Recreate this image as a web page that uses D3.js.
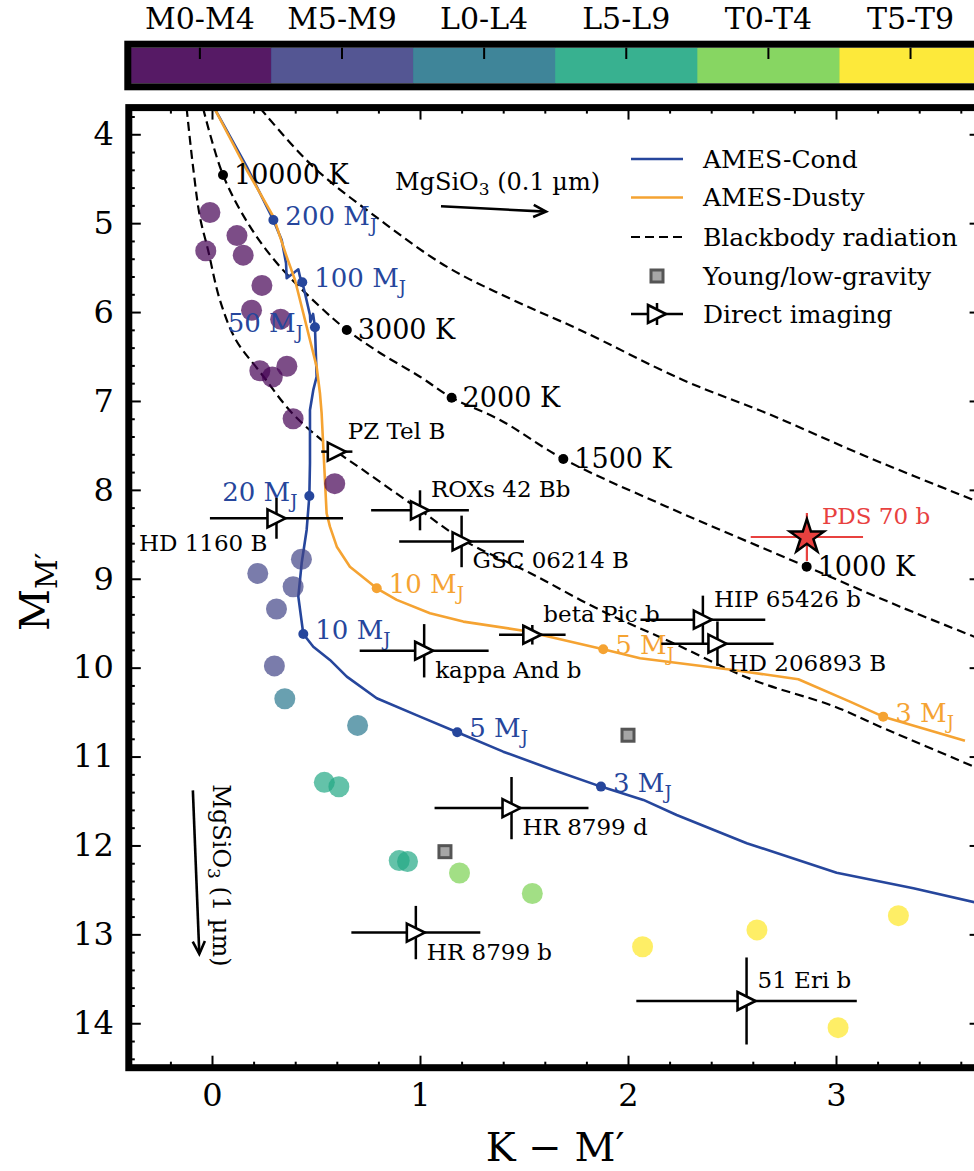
<!DOCTYPE html>
<html>
<head>
<meta charset="utf-8">
<script src="https://cdn.jsdelivr.net/npm/d3@7"></script>
<style>
  body { margin: 0; background: #fff; }
  text { font-family: 'DejaVu Serif', serif; }
</style>
</head>
<body>
<svg id="chart" width="974" height="1171"></svg>
<script>
// colour-magnitude diagram, K - M' vs M_M'

// spectral type bins for the colorbar
const spectralTypes = ['M0-M4', 'M5-M9', 'L0-L4', 'L5-L9', 'T0-T4', 'T5-T9'];

// field dwarfs (index into spectralTypes)
const fieldColor = [-0.01, 0.12, -0.03, 0.15, 0.24, 0.19, 0.33, 0.23, 0.29, 0.36, 0.39, 0.59,
                    0.43, 0.22, 0.39, 0.31, 0.30,
                    0.35, 0.70,
                    0.54, 0.61, 0.90, 0.94,
                    1.19, 1.54,
                    2.07, 2.62, 3.30, 3.01];
const fieldMag = [4.88, 5.14, 5.31, 5.36, 5.70, 5.98, 6.08, 6.66, 6.73, 6.61, 7.20, 7.93,
                  8.78, 8.94, 9.09, 9.34, 9.98,
                  10.35, 10.65,
                  11.29, 11.34, 12.17, 12.18,
                  12.31, 12.54,
                  13.14, 12.95, 12.79, 14.05];
const fieldType = [0, 0, 0, 0, 0, 0, 0, 0, 0, 0, 0, 0,
                   1, 1, 1, 1, 1,
                   2, 2,
                   3, 3, 3, 3,
                   4, 4,
                   5, 5, 5, 5];

// young / low-gravity objects
const youngColor = [1.12, 2.00];
const youngMag = [12.07, 10.76];

// directly imaged companions
const diNames = ['HD 1160 B', 'PZ Tel B', 'ROXs 42 Bb', 'GSC 06214 B', 'kappa And b', 'beta Pic b',
                 'HIP 65426 b', 'HD 206893 B', 'HR 8799 d', 'HR 8799 b', '51 Eri b'];
const diColor = [0.31, 0.60, 1.00, 1.20, 1.02, 1.54, 2.36, 2.43, 1.44, 0.98, 2.57];
const diColorErr = [0.32, 0.075, 0.235, 0.30, 0.31, 0.16, 0.30, 0.27, 0.37, 0.31, 0.53];
const diMag = [8.32, 7.57, 8.23, 8.58, 9.81, 9.63, 9.46, 9.73, 11.58, 12.98, 13.75];
const diMagErr = [0.23, 0.05, 0.225, 0.29, 0.30, 0.11, 0.27, 0.25, 0.35, 0.30, 0.49];

// PDS 70 b
const pdsName = 'PDS 70 b';
const pdsColor = 2.86, pdsColorErr = 0.27;
const pdsMag = 8.53, pdsMagErr = 0.27;

// AMES-Cond and AMES-Dusty isochrones [K-M', M_M']
const condTrack = [[0.010, 3.70], [0.167, 4.364], [0.295, 4.964], [0.335, 5.189], [0.356, 5.451],
  [0.359, 5.620], [0.415, 5.519], [0.423, 5.602], [0.434, 5.665], [0.447, 5.789], [0.471, 6.033],
  [0.473, 6.111], [0.486, 6.021], [0.495, 6.171], [0.503, 6.727], [0.487, 6.876], [0.471, 7.101],
  [0.471, 7.701], [0.468, 8.069], [0.455, 8.451], [0.431, 8.826], [0.415, 9.201], [0.439, 9.621],
  [0.487, 9.764], [0.567, 9.913], [0.648, 10.101], [0.792, 10.344], [1.000, 10.551], [1.179, 10.727],
  [1.400, 10.945], [1.641, 11.151], [1.870, 11.338], [2.074, 11.488], [2.234, 11.657], [2.571, 11.975],
  [3.003, 12.306], [3.372, 12.482], [3.700, 12.658]];
const dustyTrack = [[0.010, 3.70], [0.167, 4.402], [0.295, 4.927], [0.359, 5.377], [0.399, 5.639],
  [0.439, 6.013], [0.471, 6.314], [0.503, 6.614], [0.519, 6.913], [0.527, 7.138], [0.535, 7.514],
  [0.543, 7.889], [0.551, 8.263], [0.567, 8.414], [0.600, 8.639], [0.663, 8.864], [0.792, 9.107],
  [0.888, 9.238], [1.048, 9.388], [1.208, 9.482], [1.497, 9.584], [1.881, 9.793], [2.058, 9.894],
  [2.506, 10.026], [2.819, 10.130], [3.067, 10.382], [3.227, 10.551], [3.620, 10.821]];

// mass points on the tracks
const condMassLabels = ['200', '100', '50', '20', '10', '5', '3'];
const condMassColor = [0.295, 0.434, 0.495, 0.468, 0.439, 1.179, 1.870];
const condMassMag = [4.964, 5.665, 6.171, 8.069, 9.621, 10.727, 11.338];
const dustyMassLabels = ['10', '5', '3'];
const dustyMassColor = [0.792, 1.881, 3.227];
const dustyMassMag = [9.107, 9.793, 10.551];

// blackbody curves
const bbCurveA = [[-0.122, 3.705], [-0.091, 4.368], [-0.058, 4.930], [-0.019, 5.301], [0.038, 5.864],
  [0.115, 6.314], [0.231, 6.674], [0.389, 7.146], [0.567, 7.514], [0.726, 7.776], [1.000, 8.226],
  [1.207, 8.564], [1.529, 8.935], [1.865, 9.351], [2.216, 9.722], [2.601, 10.138], [2.986, 10.431],
  [3.212, 10.664], [3.700, 11.150]];
const bbCurveB = [[-0.043, 3.705], [0.053, 4.458], [0.183, 5.039], [0.327, 5.489], [0.519, 5.939],
  [0.648, 6.201], [0.808, 6.460], [1.000, 6.727], [1.152, 6.963], [1.385, 7.214], [1.689, 7.652],
  [2.186, 8.189], [2.859, 8.864], [3.308, 9.314], [3.700, 9.685]];
const bbCurveC = [[0.231, 3.705], [0.486, 4.364], [0.808, 4.964], [1.128, 5.489], [1.447, 5.864],
  [1.769, 6.201], [2.264, 6.764], [2.667, 7.138], [3.148, 7.627], [3.700, 8.150]];

// temperatures marked on the blackbody curve
const tempLabels = ['10000 K', '3000 K', '2000 K', '1500 K', '1000 K'];
const tempColor = [0.053, 0.648, 1.152, 1.689, 2.859];
const tempMag = [4.458, 6.201, 6.963, 7.652, 8.864];

// extinction vectors [start, end]
const arrowSmallGrain = [[1.101, 4.81], [1.606, 4.87]];
const arrowLargeGrain = [[-0.092, 11.38], [-0.061, 13.22]];

const legendLabels = ['AMES-Cond', 'AMES-Dusty', 'Blackbody radiation', 'Young/low-gravity', 'Direct imaging'];

const condBlue = '#26469c';
const dustyOrange = '#f5a332';
const pdsRed = '#e8413f';

const svg = d3.select('#chart');

const x = d3.scaleLinear().domain([-0.4, 3.7]).range([128.8, 981.6]);
const y = d3.scaleLinear().domain([3.7, 14.5]).range([107.6, 1067.7]);
const [X0, X1] = x.range();
const [Y0, Y1] = y.range();

svg.append('clipPath').attr('id', 'plot-area')
  .append('rect').attr('x', X0).attr('y', Y0).attr('width', X1 - X0).attr('height', Y1 - Y0);

// ---- colorbar
const band = d3.scaleBand().domain(spectralTypes).range([X0, X1]);
const typeColor = (i) => d3.interpolateViridis(i / 5);
const cbar = svg.append('g');
cbar.selectAll('rect.seg').data(spectralTypes).join('rect')
  .attr('class', 'seg')
  .attr('x', (d) => band(d)).attr('y', 47.7)
  .attr('width', band.bandwidth() + 0.5).attr('height', 35.6)
  .attr('fill', (d, i) => typeColor(i)).attr('fill-opacity', 0.9);
cbar.append('rect')
  .attr('x', X0 - 1).attr('y', 44.2).attr('width', X1 - X0 + 2).attr('height', 42.6)
  .attr('fill', 'none').attr('stroke', 'black').attr('stroke-width', 7);
cbar.selectAll('line').data(spectralTypes).join('line')
  .attr('x1', (d) => band(d) + band.bandwidth() / 2).attr('x2', (d) => band(d) + band.bandwidth() / 2)
  .attr('y1', 47.7).attr('y2', 59).attr('stroke', 'black').attr('stroke-width', 2);
cbar.selectAll('text').data(spectralTypes).join('text')
  .attr('x', (d) => band(d) + band.bandwidth() / 2).attr('y', 29)
  .attr('text-anchor', 'middle').attr('font-size', 30)
  .text((d) => d);

// ---- axes, ticks pointing in
const majorX = [0, 1, 2, 3];
const minorX = d3.range(-4, 37, 2).map((d) => d / 10).filter((d) => Math.abs(d - Math.round(d)) > 0.01);
const majorY = d3.range(4, 15);
const minorY = d3.range(38, 146, 2).map((d) => d / 10).filter((d) => Math.abs(d - Math.round(d)) > 0.01);

function styleAxis(g, size) {
  g.select('.domain').remove();
  g.attr('font-family', "'DejaVu Serif', serif").attr('font-size', size);
  g.selectAll('line').attr('stroke-width', 2);
}

svg.append('g').attr('transform', `translate(0,${Y1})`)
  .call(d3.axisBottom(x).tickValues(majorX).tickFormat(d3.format('d')).tickSizeInner(-12).tickSizeOuter(0).tickPadding(16))
  .call((g) => styleAxis(g, 32));
svg.append('g').attr('transform', `translate(0,${Y1})`)
  .call(d3.axisBottom(x).tickValues(minorX).tickFormat('').tickSizeInner(-6).tickSizeOuter(0))
  .call((g) => styleAxis(g, 0));
svg.append('g').attr('transform', `translate(0,${Y0})`)
  .call(d3.axisTop(x).tickValues(majorX).tickFormat('').tickSizeInner(-12).tickSizeOuter(0))
  .call((g) => styleAxis(g, 0));
svg.append('g').attr('transform', `translate(0,${Y0})`)
  .call(d3.axisTop(x).tickValues(minorX).tickFormat('').tickSizeInner(-6).tickSizeOuter(0))
  .call((g) => styleAxis(g, 0));

svg.append('g').attr('transform', `translate(${X0},0)`)
  .call(d3.axisLeft(y).tickValues(majorY).tickFormat(d3.format('d')).tickSizeInner(-12).tickSizeOuter(0).tickPadding(15))
  .call((g) => styleAxis(g, 32));
svg.append('g').attr('transform', `translate(${X0},0)`)
  .call(d3.axisLeft(y).tickValues(minorY).tickFormat('').tickSizeInner(-6).tickSizeOuter(0))
  .call((g) => styleAxis(g, 0));
svg.append('g').attr('transform', `translate(${X1},0)`)
  .call(d3.axisRight(y).tickValues(majorY).tickFormat('').tickSizeInner(-12).tickSizeOuter(0))
  .call((g) => styleAxis(g, 0));
svg.append('g').attr('transform', `translate(${X1},0)`)
  .call(d3.axisRight(y).tickValues(minorY).tickFormat('').tickSizeInner(-6).tickSizeOuter(0))
  .call((g) => styleAxis(g, 0));

// axis labels
svg.append('text')
  .attr('x', (X0 + X1) / 2).attr('y', 1161)
  .attr('text-anchor', 'middle').attr('font-size', 40)
  .text('K \u2212 M\u2032');
const ylab = svg.append('text')
  .attr('transform', 'translate(49,631) rotate(-90)')
  .attr('font-size', 41);
ylab.append('tspan').text('M');
ylab.append('tspan').attr('font-size', 29).attr('dy', 8).text('M\u2032');

// ---- plot contents
const plot = svg.append('g').attr('clip-path', 'url(#plot-area)');
const line = d3.line().x((d) => x(d[0])).y((d) => y(d[1]));
const smooth = d3.line().x((d) => x(d[0])).y((d) => y(d[1])).curve(d3.curveCatmullRom);

[bbCurveA, bbCurveB, bbCurveC].forEach((c) => {
  plot.append('path').attr('d', smooth(c))
    .attr('fill', 'none').attr('stroke', 'black').attr('stroke-width', 2.2)
    .attr('stroke-dasharray', '9,5');
});

plot.append('path').attr('d', line(condTrack))
  .attr('fill', 'none').attr('stroke', condBlue).attr('stroke-width', 2.6).attr('stroke-linejoin', 'round');
plot.append('path').attr('d', line(dustyTrack))
  .attr('fill', 'none').attr('stroke', dustyOrange).attr('stroke-width', 2.6).attr('stroke-linejoin', 'round');

// field dwarfs
plot.append('g').selectAll('circle').data(fieldColor).join('circle')
  .attr('cx', (d) => x(d)).attr('cy', (d, i) => y(fieldMag[i])).attr('r', 10.5)
  .attr('fill', (d, i) => typeColor(fieldType[i])).attr('fill-opacity', 0.7);

// temperature dots and labels
plot.append('g').selectAll('circle').data(tempColor).join('circle')
  .attr('cx', (d) => x(d)).attr('cy', (d, i) => y(tempMag[i])).attr('r', 5).attr('fill', 'black');
plot.append('g').selectAll('text').data(tempLabels).join('text')
  .attr('x', (d, i) => x(tempColor[i]) + 11).attr('y', (d, i) => y(tempMag[i]) + 9)
  .attr('font-size', 27).text((d) => d);

// mass dots
function massLabel(sel, color) {
  sel.attr('fill', color).attr('font-size', 26);
  sel.append('tspan').text((d) => d + ' M');
  sel.append('tspan').attr('font-size', 18).attr('dy', 7).text('J');
}
const leftMass = new Set(['50', '20']);
plot.append('g').selectAll('circle').data(condMassColor).join('circle')
  .attr('cx', (d) => x(d)).attr('cy', (d, i) => y(condMassMag[i])).attr('r', 5).attr('fill', condBlue);
plot.append('g').selectAll('text').data(condMassLabels).join('text')
  .attr('x', (d, i) => x(condMassColor[i]) + (leftMass.has(d) ? -12 : 12))
  .attr('y', (d, i) => y(condMassMag[i]) + 5)
  .attr('text-anchor', (d) => leftMass.has(d) ? 'end' : 'start')
  .call(massLabel, condBlue);
plot.append('g').selectAll('circle').data(dustyMassColor).join('circle')
  .attr('cx', (d) => x(d)).attr('cy', (d, i) => y(dustyMassMag[i])).attr('r', 5).attr('fill', dustyOrange);
plot.append('g').selectAll('text').data(dustyMassLabels).join('text')
  .attr('x', (d, i) => x(dustyMassColor[i]) + 12)
  .attr('y', (d, i) => y(dustyMassMag[i]) + 5)
  .call(massLabel, dustyOrange);

// young / low-gravity squares
plot.append('g').selectAll('rect').data(youngColor).join('rect')
  .attr('x', (d) => x(d) - 6).attr('y', (d, i) => y(youngMag[i]) - 6)
  .attr('width', 12).attr('height', 12)
  .attr('fill', '#a6a6a6').attr('stroke', '#555').attr('stroke-width', 3);

// direct imaging with error bars
const di = plot.append('g');
di.selectAll('line.h').data(diColor).join('line').attr('class', 'h')
  .attr('x1', (d, i) => x(d - diColorErr[i])).attr('x2', (d, i) => x(d + diColorErr[i]))
  .attr('y1', (d, i) => y(diMag[i])).attr('y2', (d, i) => y(diMag[i]))
  .attr('stroke', 'black').attr('stroke-width', 2.5);
di.selectAll('line.v').data(diColor).join('line').attr('class', 'v')
  .attr('x1', (d) => x(d)).attr('x2', (d) => x(d))
  .attr('y1', (d, i) => y(diMag[i] - diMagErr[i])).attr('y2', (d, i) => y(diMag[i] + diMagErr[i]))
  .attr('stroke', 'black').attr('stroke-width', 2.5);
const triangle = 'M-9,-9L9,0L-9,9Z';
di.selectAll('path').data(diColor).join('path')
  .attr('d', triangle)
  .attr('transform', (d, i) => `translate(${x(d)},${y(diMag[i])})`)
  .attr('fill', 'white').attr('stroke', 'black').attr('stroke-width', 2.6).attr('stroke-linejoin', 'miter');

// label placement: above-right, below-right, or below-left
const labelAbove = new Set(['PZ Tel B', 'ROXs 42 Bb', 'beta Pic b', 'HIP 65426 b', '51 Eri b']);
di.selectAll('text').data(diNames).join('text')
  .attr('x', (d, i) => d === 'HD 1160 B' ? x(diColor[i]) - 9 : x(diColor[i]) + 11)
  .attr('y', (d, i) => y(diMag[i]) + (d === 'HD 1160 B' ? 33 : labelAbove.has(d) ? -13 : 27))
  .attr('text-anchor', (d) => d === 'HD 1160 B' ? 'end' : 'start')
  .attr('font-size', 23).text((d) => d);

// PDS 70 b
plot.append('line')
  .attr('x1', x(pdsColor - pdsColorErr)).attr('x2', x(pdsColor + pdsColorErr))
  .attr('y1', y(pdsMag)).attr('y2', y(pdsMag)).attr('stroke', pdsRed).attr('stroke-width', 2.2);
plot.append('line')
  .attr('x1', x(pdsColor)).attr('x2', x(pdsColor))
  .attr('y1', y(pdsMag - pdsMagErr)).attr('y2', y(pdsMag + pdsMagErr)).attr('stroke', pdsRed).attr('stroke-width', 2.2);
plot.append('path')
  .attr('d', d3.symbol(d3.symbolStar, 364)())
  .attr('transform', `translate(${x(pdsColor)},${y(pdsMag)})`)
  .attr('fill', pdsRed).attr('stroke', 'black').attr('stroke-width', 2.5);
plot.append('text')
  .attr('x', x(pdsColor) + 15).attr('y', y(pdsMag) - 13)
  .attr('fill', pdsRed).attr('font-size', 23).text(pdsName);

// extinction arrows
function arrow(pts) {
  const [a, b] = pts;
  const x1 = x(a[0]), y1 = y(a[1]), x2 = x(b[0]), y2 = y(b[1]);
  const ang = Math.atan2(y2 - y1, x2 - x1);
  const len = 14, spread = 0.45;
  const g = plot.append('g').attr('stroke', 'black').attr('stroke-width', 2.6).attr('fill', 'none');
  g.append('line').attr('x1', x1).attr('y1', y1).attr('x2', x2).attr('y2', y2);
  g.append('path').attr('d', `M${x2 - len * Math.cos(ang - spread)},${y2 - len * Math.sin(ang - spread)}` +
    `L${x2},${y2}L${x2 - len * Math.cos(ang + spread)},${y2 - len * Math.sin(ang + spread)}`);
  return [x1, y1];
}
function mgsio3(sel, grain) {
  sel.attr('font-size', 24);
  sel.append('tspan').text('MgSiO');
  sel.append('tspan').attr('font-size', 17).attr('dy', 5).text('3');
  sel.append('tspan').attr('dy', -5).text(' (' + grain + ' \u00b5m)');
}
const [ax, ay] = arrow(arrowSmallGrain);
plot.append('text').attr('x', ax - 46).attr('y', ay - 16).call(mgsio3, '0.1');
const [bx, by] = arrow(arrowLargeGrain);
plot.append('text').attr('transform', `translate(${bx + 20},${by - 6}) rotate(90)`).call(mgsio3, '1');

// ---- legend
const legend = svg.append('g');
const legY = [159, 197.5, 237, 276, 314];
legend.selectAll('text').data(legendLabels).join('text')
  .attr('x', 703).attr('y', (d, i) => legY[i]).attr('dy', '0.35em')
  .attr('font-size', 25).text((d) => d);
legend.append('line').attr('x1', 631).attr('x2', 683).attr('y1', legY[0]).attr('y2', legY[0])
  .attr('stroke', condBlue).attr('stroke-width', 2.6);
legend.append('line').attr('x1', 631).attr('x2', 683).attr('y1', legY[1]).attr('y2', legY[1])
  .attr('stroke', dustyOrange).attr('stroke-width', 2.6);
legend.append('line').attr('x1', 631).attr('x2', 683).attr('y1', legY[2]).attr('y2', legY[2])
  .attr('stroke', 'black').attr('stroke-width', 2.2).attr('stroke-dasharray', '9,5');
legend.append('rect').attr('x', 651).attr('y', legY[3] - 6).attr('width', 12).attr('height', 12)
  .attr('fill', '#a6a6a6').attr('stroke', '#555').attr('stroke-width', 3);
legend.append('line').attr('x1', 631).attr('x2', 683).attr('y1', legY[4]).attr('y2', legY[4])
  .attr('stroke', 'black').attr('stroke-width', 2.5);
legend.append('line').attr('x1', 657).attr('x2', 657).attr('y1', legY[4] - 11).attr('y2', legY[4] + 11)
  .attr('stroke', 'black').attr('stroke-width', 2.5);
legend.append('path').attr('d', triangle).attr('transform', `translate(657,${legY[4]})`)
  .attr('fill', 'white').attr('stroke', 'black').attr('stroke-width', 2.6);

// frame
svg.append('rect').attr('x', X0).attr('y', Y0).attr('width', X1 - X0).attr('height', Y1 - Y0)
  .attr('fill', 'none').attr('stroke', 'black').attr('stroke-width', 7);
</script>
</body>
</html>
